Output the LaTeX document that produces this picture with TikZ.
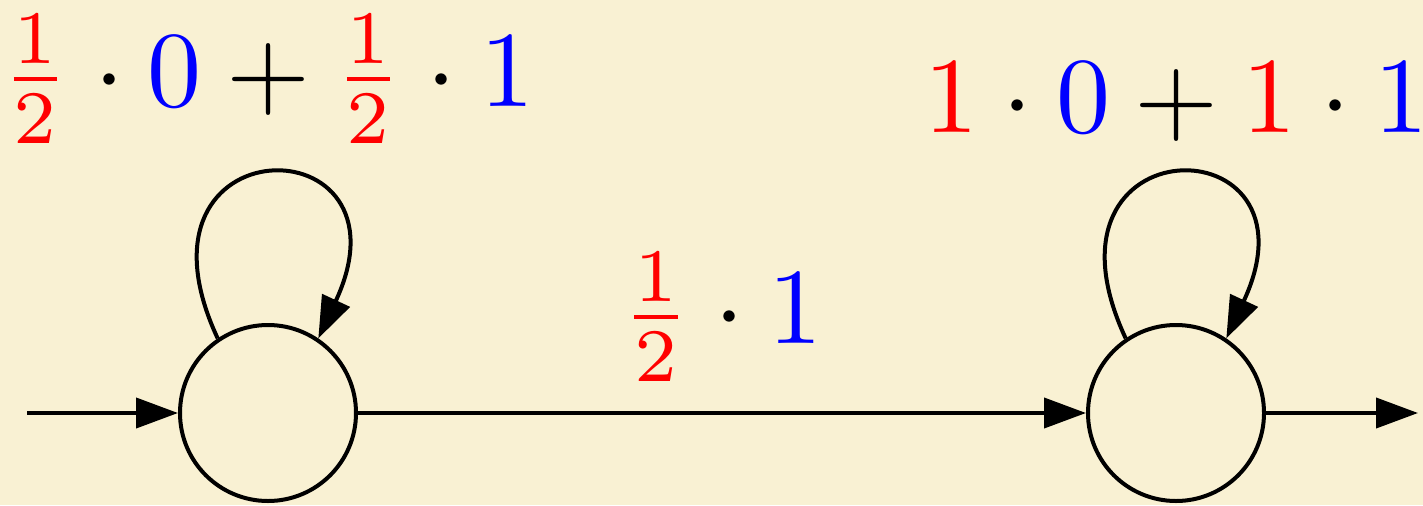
\documentclass[tikz,border=0pt]{standalone}
\usepackage{graphicx}
\usetikzlibrary{arrows.meta}
\definecolor{parch}{RGB}{249,241,211}
\newcommand{\hugemath}[1]{\scalebox{5.4}{\normalsize$#1$}}
\tikzset{
  state/.style={circle, draw=black, line width=2pt, minimum size=88pt, inner sep=0pt},
  edge/.style={line width=2pt, -{Triangle[length=21pt,width=15pt]}},
  lbl/.style={inner sep=0pt}
}
\begin{document}
\begin{tikzpicture}[x=0.5pt,y=0.5pt]
\fill[parch] (0,0) rectangle (1423,505);
\useasboundingbox (0,0) rectangle (1423,505);
\node[state] (a) at (268,92) {};
\node[state] (b) at (1176,92) {};
\coordinate (in) at (27,92);
\coordinate (out) at (1418,92);
\draw[edge] (in) -- (a);
\draw[edge] (b) -- (out);
\draw[edge] (a) -- node[lbl, above=15pt] {\hugemath{\textcolor{red}{\frac{1}{2}}\cdot\textcolor{blue}{1}}} (b);
\draw[edge] (a.124) .. controls +(115:120pt) and +(65:120pt) .. (a.56)
  node[lbl, midway, above=15pt] {\hugemath{\textcolor{red}{\frac{1}{2}}\cdot\textcolor{blue}{0}+\textcolor{red}{\frac{1}{2}}\cdot\textcolor{blue}{1}}};
\draw[edge] (b.124) .. controls +(115:120pt) and +(65:120pt) .. (b.56)
  node[lbl, midway, above=16pt] {\hugemath{\textcolor{red}{1}\cdot\textcolor{blue}{0}+\textcolor{red}{1}\cdot\textcolor{blue}{1}}};
\end{tikzpicture}
\end{document}
